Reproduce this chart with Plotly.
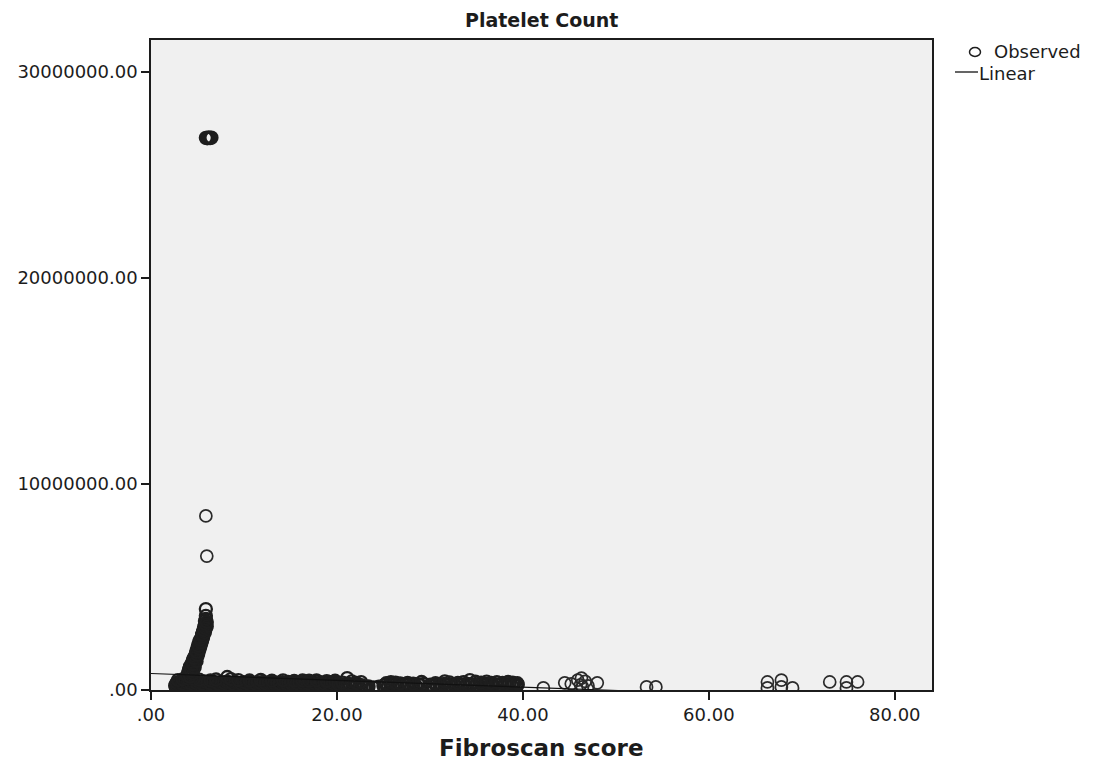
import plotly.graph_objects as go

# ---- data: (Fibroscan score, platelet count) ----
band_low = [
    (2.6, 210000), (2.9, 180000), (3.2, 240000), (3.5, 195000), (3.8, 220000), (4.1, 170000),
    (4.4, 250000), (4.7, 205000), (5.0, 185000), (5.3, 230000), (5.6, 215000), (5.9, 190000),
    (6.2, 245000), (6.5, 175000), (6.8, 225000), (7.1, 200000), (7.4, 235000), (7.7, 185000),
    (8.0, 210000), (8.3, 165000), (8.6, 240000), (8.9, 220000), (9.2, 195000), (9.5, 180000),
    (9.8, 230000), (10.1, 205000), (10.4, 170000), (10.7, 215000), (11.0, 250000), (11.3, 190000),
    (11.6, 225000), (11.9, 185000), (12.2, 200000), (12.5, 240000), (12.8, 175000), (13.1, 210000),
    (13.4, 230000), (13.7, 195000), (14.0, 165000), (14.3, 220000), (14.6, 205000), (14.9, 245000),
    (15.2, 180000), (15.5, 215000), (15.8, 190000), (16.1, 235000), (16.4, 200000), (16.7, 170000),
    (17.0, 225000), (17.3, 210000), (17.6, 185000), (17.9, 240000), (18.2, 195000), (18.5, 230000),
    (18.8, 175000), (19.1, 215000), (19.4, 205000), (19.7, 190000), (20.0, 220000),
]

band_bottom = [
    (2.7, 110000), (3.3, 130000), (3.9, 100000), (4.5, 120000), (5.1, 140000), (5.7, 110000),
    (6.3, 90000), (6.9, 130000), (7.5, 115000), (8.1, 100000), (8.7, 125000), (9.3, 95000),
    (9.9, 135000), (10.5, 110000), (11.1, 120000), (11.7, 100000), (12.3, 130000), (12.9, 105000),
    (13.5, 115000), (14.1, 95000), (14.7, 125000), (15.3, 110000), (15.9, 135000), (16.5, 100000),
    (17.1, 120000), (17.7, 110000), (18.3, 130000), (18.9, 95000), (19.5, 115000),
]

band_mid = [
    (2.7, 290000), (3.0, 270000), (3.3, 305000), (3.6, 280000), (3.9, 295000), (4.2, 265000),
    (4.5, 310000), (4.8, 285000), (5.1, 270000), (5.4, 300000), (5.7, 290000), (6.0, 275000),
    (6.3, 305000), (6.6, 265000), (6.9, 295000), (7.2, 280000), (7.5, 300000), (7.8, 270000),
    (8.1, 290000), (8.4, 310000), (8.7, 275000), (9.0, 295000), (9.3, 285000), (9.6, 265000),
    (9.9, 300000), (10.2, 280000), (10.5, 290000), (10.8, 270000), (11.1, 305000), (11.4, 285000),
    (11.7, 295000), (12.0, 275000), (12.3, 300000), (12.6, 265000), (12.9, 290000), (13.2, 280000),
    (13.5, 305000), (13.8, 270000), (14.1, 295000), (14.4, 285000), (14.7, 275000), (15.0, 300000),
    (15.3, 290000), (15.6, 265000), (15.9, 295000), (16.2, 280000), (16.5, 300000), (16.8, 270000),
    (17.1, 290000), (17.4, 305000), (17.7, 280000), (18.0, 295000), (18.3, 270000), (18.6, 285000),
    (18.9, 300000), (19.2, 275000), (19.5, 290000), (19.8, 280000),
]

band_high = [
    (2.75, 350000), (3.05, 390000), (3.35, 320000), (3.65, 410000), (3.95, 360000), (4.25, 330000),
    (4.55, 400000), (4.85, 345000), (5.15, 380000), (5.45, 315000), (5.75, 420000), (6.05, 365000),
    (6.35, 335000), (6.65, 395000), (6.95, 355000), (7.25, 310000), (7.55, 385000), (7.85, 340000),
    (8.15, 405000), (8.45, 370000), (8.75, 325000), (9.05, 390000), (9.35, 350000), (9.65, 315000),
    (9.95, 380000), (10.25, 340000), (10.55, 400000), (10.85, 360000), (11.15, 330000), (11.45, 375000),
    (11.75, 345000), (12.05, 395000), (12.35, 320000), (12.65, 365000), (12.95, 385000), (13.25, 335000),
    (13.55, 355000), (13.85, 310000), (14.15, 375000), (14.45, 345000), (14.75, 390000), (15.05, 325000),
    (15.35, 360000), (15.65, 340000), (15.95, 380000), (16.25, 355000), (16.55, 410000), (16.85, 330000),
    (17.15, 395000), (17.45, 365000), (17.75, 420000), (18.05, 335000), (18.35, 370000), (18.65, 315000),
    (18.95, 355000), (19.25, 385000), (19.55, 340000), (19.85, 375000),
]

band_peaks = [
    (2.9, 480000), (3.4, 520000), (4.0, 560000), (4.6, 540000), (5.2, 500000), (6.4, 470000),
    (7.0, 510000), (8.2, 630000), (8.6, 530000), (9.4, 480000), (10.6, 460000), (11.8, 490000),
    (13.0, 450000), (14.2, 470000), (15.4, 440000), (16.3, 460000), (17.0, 450000), (17.8, 470000),
    (18.9, 430000), (19.8, 450000),
]

mid_low = [
    (20.4, 200000), (20.9, 240000), (21.4, 180000), (21.9, 220000), (22.4, 190000), (22.9, 150000),
    (23.4, 170000), (23.9, 130000), (24.5, 160000), (25.0, 210000), (25.5, 190000), (26.0, 230000),
    (26.5, 200000), (27.0, 180000), (27.5, 220000), (28.0, 170000), (28.5, 200000), (29.0, 240000),
    (29.8, 150000), (30.3, 190000), (30.8, 170000), (31.3, 210000), (31.8, 230000), (32.3, 180000),
    (32.8, 200000), (33.3, 220000), (33.8, 190000), (34.3, 240000), (34.8, 170000), (35.3, 210000),
    (35.8, 230000), (36.3, 190000), (36.8, 200000), (37.3, 220000), (37.8, 180000), (38.3, 240000),
    (38.8, 210000), (39.3, 200000),
]

mid_mid = [
    (20.15, 290000), (20.65, 270000), (21.15, 310000), (21.65, 280000), (22.15, 260000),
    (22.65, 230000), (23.15, 140000), (24.2, 120000), (25.25, 270000), (25.75, 300000),
    (26.25, 280000), (26.75, 260000), (27.25, 290000), (27.75, 270000), (28.25, 250000),
    (28.75, 280000), (29.35, 300000), (30.05, 260000), (30.55, 280000), (31.05, 270000),
    (31.55, 300000), (32.05, 260000), (32.55, 290000), (33.05, 280000), (33.55, 270000),
    (34.05, 300000), (34.55, 290000), (35.05, 260000), (35.55, 280000), (36.05, 300000),
    (36.55, 270000), (37.05, 290000), (37.55, 260000), (38.05, 280000), (38.55, 300000),
    (39.05, 270000), (39.45, 250000),
]

mid_high = [
    (20.6, 360000), (21.1, 580000), (21.6, 420000), (22.1, 340000), (22.6, 380000), (25.3, 330000),
    (25.8, 380000), (26.3, 360000), (26.8, 320000), (27.6, 350000), (28.2, 310000), (29.1, 390000),
    (30.6, 330000), (31.6, 420000), (32.1, 370000), (33.0, 340000), (33.6, 380000), (34.3, 480000),
    (34.9, 400000), (35.5, 360000), (36.1, 410000), (36.6, 340000), (37.2, 380000), (37.8, 350000),
    (38.4, 390000), (38.9, 360000), (39.4, 330000),
]

high_scores = [
    (42.2, 100000), (44.5, 350000), (45.2, 300000), (45.9, 480000), (46.3, 580000), (46.4, 150000),
    (46.7, 420000), (46.2, 250000), (47.0, 200000), (48.0, 350000), (53.3, 150000), (54.3, 150000),
    (66.3, 390000), (66.3, 100000), (67.8, 480000), (67.8, 150000), (69.0, 100000), (73.0, 390000),
    (74.8, 390000), (74.8, 100000), (76.0, 390000),
]

rising_counts = [
    (3.9, 700000), (4.3, 750000), (4.0, 850000), (4.4, 900000), (4.1, 1000000), (4.5, 1050000),
    (4.2, 1150000), (4.6, 1200000), (4.4, 1300000), (4.7, 1350000), (4.5, 1450000), (4.8, 1500000),
    (4.7, 1600000), (5.0, 1650000), (4.8, 1750000), (5.1, 1800000), (4.9, 1900000), (5.2, 1950000),
    (5.0, 2050000), (5.3, 2100000), (5.1, 2200000), (5.4, 2250000), (5.2, 2350000), (5.5, 2400000),
    (5.4, 2500000), (5.6, 2550000), (5.5, 2650000), (5.7, 2750000), (5.6, 2850000), (5.8, 2950000),
    (5.7, 3050000), (5.8, 3150000), (5.9, 3250000), (5.8, 3350000), (5.9, 3450000), (5.9, 3600000),
    (5.9, 3930000),
]

rising_counts_b = [
    (4.2, 650000), (4.5, 800000), (4.3, 950000), (4.7, 1100000), (4.5, 1250000), (4.9, 1400000),
    (4.6, 1550000), (5.0, 1700000), (4.9, 1850000), (5.2, 2000000), (5.1, 2150000), (5.4, 2300000),
    (5.3, 2450000), (5.6, 2600000), (5.5, 2700000), (5.8, 2800000), (5.7, 2900000), (5.9, 3000000),
    (6.0, 3100000), (5.9, 3200000), (6.0, 3300000),
]

outliers = [(6.0, 6500000), (5.9, 8450000)]

extreme_counts = [
    (5.9, 26800000), (6.05, 26780000), (6.2, 26820000), (6.35, 26790000), (6.5, 26810000),
]

# Linear fit (platelet count on Fibroscan score)
fit_intercept = 800000
fit_slope = -16500

x_range = [0, 84.0]
y_range = [0, 31550000]

x_ticks = [0, 20, 40, 60, 80]
x_tick_text = [".00", "20.00", "40.00", "60.00", "80.00"]
y_ticks = [0, 10000000, 20000000, 30000000]
y_tick_text = [".00", "10000000.00", "20000000.00", "30000000.00"]

# ---- build ----
dense = (band_bottom + band_low + band_mid + band_high + band_peaks
         + mid_low + mid_mid + mid_high + rising_counts + rising_counts_b + extreme_counts)
sparse = high_scores + outliers

FONT = "DejaVu Sans"
INK = "#1c1c1c"
MARK = "#1e1e1e"

fig = go.Figure()
# overlapping observations (drawn with a heavier ring so they merge)
fig.add_trace(go.Scatter(
    x=[p[0] for p in dense], y=[p[1] for p in dense], mode="markers", name="Observed",
    marker=dict(symbol="circle-open", size=12, color=MARK, line=dict(width=2.3, color=MARK)),
    showlegend=False,
))
fig.add_trace(go.Scatter(
    x=[p[0] for p in sparse], y=[p[1] for p in sparse], mode="markers", name="Observed",
    marker=dict(symbol="circle-open", size=12, color="#2a2a2a", line=dict(width=1.7, color="#2a2a2a")),
    showlegend=False,
))

fit_x = list(x_range)
fit_y = [fit_intercept + fit_slope * v for v in fit_x]
fig.add_trace(go.Scatter(
    x=fit_x, y=fit_y, mode="lines", name="Linear",
    line=dict(color="#111111", width=1.2), showlegend=False,
))

axis_common = dict(
    showline=True, linecolor=INK, linewidth=1.5, mirror=True,
    ticks="outside", ticklen=8, tickwidth=1.5, tickcolor=INK,
    showgrid=False, zeroline=False,
    tickfont=dict(family=FONT, size=18, color=INK),
)

fig.update_xaxes(range=x_range, tickvals=x_ticks, ticktext=x_tick_text, **axis_common)
fig.update_yaxes(range=y_range, tickvals=y_ticks, ticktext=y_tick_text, **axis_common)

W, H = 1100, 763
L, R, T, B = 151, 932, 40, 690


def px_x(p):
    return (p - L) / (R - L)


def px_y(p):
    return (B - p) / (B - T)


annotations = [
    dict(text="<b>Platelet Count</b>", x=0.5, y=1, xref="paper", yref="paper",
         xanchor="center", yanchor="middle", yshift=20, showarrow=False,
         font=dict(family=FONT, size=19, color=INK)),
    dict(text="<b>Fibroscan score</b>", x=0.5, y=0, xref="paper", yref="paper",
         xanchor="center", yanchor="middle", yshift=-58, showarrow=False,
         font=dict(family=FONT, size=23, color=INK)),
    dict(text="Observed", x=px_x(992), y=px_y(52), xref="paper", yref="paper",
         xanchor="left", yanchor="middle", showarrow=False,
         font=dict(family=FONT, size=18, color=INK)),
    dict(text="Linear", x=px_x(977), y=px_y(73), xref="paper", yref="paper",
         xanchor="left", yanchor="middle", showarrow=False,
         font=dict(family=FONT, size=18, color=INK)),
]

shapes = [
    dict(type="circle", xref="paper", yref="paper", xsizemode="pixel", ysizemode="pixel",
         xanchor=px_x(975), yanchor=px_y(52), x0=-5.5, x1=5.5, y0=-4.5, y1=4.5,
         line=dict(color=MARK, width=1.5)),
    dict(type="line", xref="paper", yref="paper",
         x0=px_x(955), x1=px_x(978), y0=px_y(72), y1=px_y(72),
         line=dict(color="#111111", width=1.3)),
]

fig.update_layout(
    width=W, height=H,
    margin=dict(l=L, r=W - R, t=T, b=H - B),
    paper_bgcolor="white", plot_bgcolor="#f0f0f0",
    annotations=annotations, shapes=shapes,
    showlegend=False,
)

fig.write_html("out.html")
